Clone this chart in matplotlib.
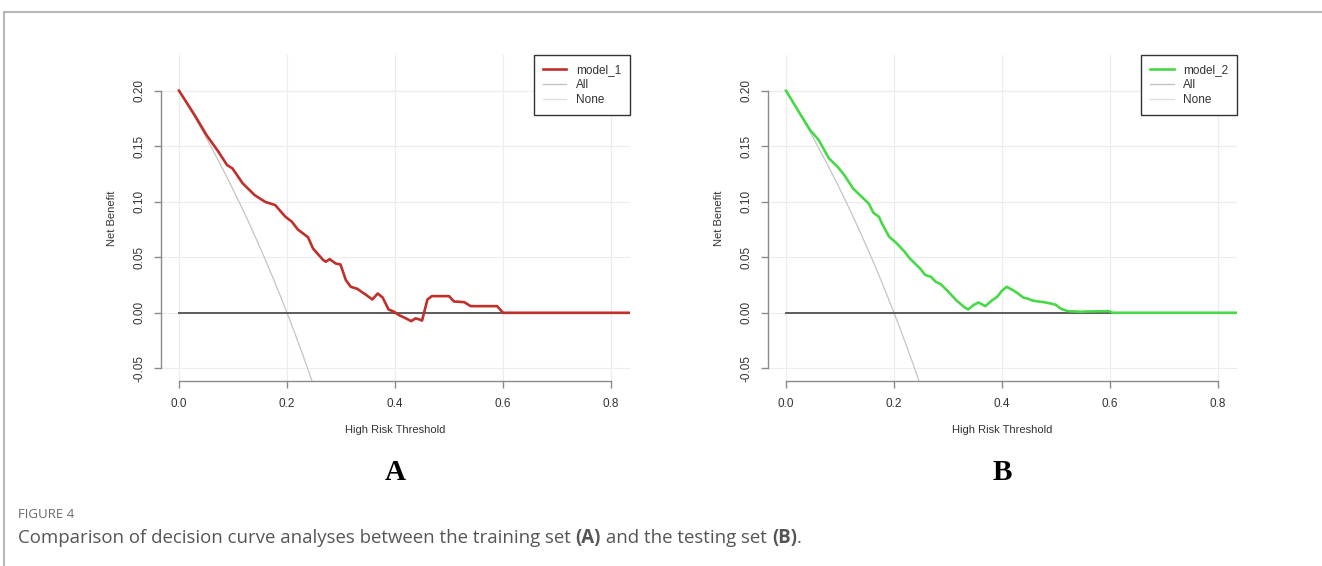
import matplotlib
matplotlib.use("Agg")
import matplotlib.pyplot as plt
from matplotlib.lines import Line2D
import numpy as np

# decision curve values
thr_1 = [0.0, 0.029, 0.051, 0.073, 0.089, 0.099, 0.118, 0.140, 0.159, 0.178, 0.197, 0.209,
         0.220, 0.239, 0.248, 0.267, 0.272, 0.279, 0.290, 0.299, 0.309, 0.318, 0.330, 0.347,
         0.358, 0.368, 0.377, 0.388, 0.398, 0.407, 0.420, 0.430, 0.438, 0.445, 0.450, 0.460,
         0.468, 0.500, 0.509, 0.528, 0.540, 0.589, 0.600, 0.835]
nb_1 = [0.200, 0.178, 0.160, 0.145, 0.133, 0.130, 0.1165, 0.106, 0.100, 0.097, 0.0865, 0.082,
        0.075, 0.068, 0.058, 0.0475, 0.046, 0.0483, 0.0444, 0.0435, 0.0294, 0.0234, 0.0216, 0.0159,
        0.012, 0.0174, 0.0138, 0.003, 0.001, -0.002, -0.005, -0.0075, -0.005, -0.006, -0.007, 0.012,
        0.015, 0.015, 0.0102, 0.0096, 0.006, 0.006, 0.0, 0.0]

thr_2 = [0.0, 0.0255, 0.0446, 0.0605, 0.0796, 0.0955, 0.108, 0.124, 0.140, 0.153, 0.162, 0.172,
         0.178, 0.191, 0.204, 0.2196, 0.229, 0.248, 0.258, 0.2686, 0.277, 0.2864, 0.299, 0.315,
         0.331, 0.3373, 0.347, 0.3564, 0.369, 0.382, 0.391, 0.3997, 0.4086, 0.420, 0.4296, 0.439,
         0.4487, 0.458, 0.477, 0.490, 0.4996, 0.509, 0.522, 0.547, 0.557, 0.598, 0.6046, 0.835]
nb_2 = [0.200, 0.1796, 0.1646, 0.1556, 0.139, 0.1315, 0.124, 0.112, 0.1045, 0.0985, 0.090, 0.0865,
        0.080, 0.0685, 0.063, 0.055, 0.049, 0.040, 0.034, 0.0324, 0.028, 0.0258, 0.0198, 0.0114,
        0.0048, 0.003, 0.0069, 0.0093, 0.006, 0.0114, 0.0144, 0.0198, 0.0234, 0.0204, 0.0174, 0.0138,
        0.0126, 0.0108, 0.0096, 0.0084, 0.0072, 0.0036, 0.0015, 0.0009, 0.0012, 0.0015, 0.0, 0.0]

prevalence = 0.2
x_ticks = [0.0, 0.2, 0.4, 0.6, 0.8]
y_ticks = [-0.05, 0.0, 0.05, 0.10, 0.15, 0.20]
model_names = ["model_1", "model_2"]
model_colors = ["#c0302b", "#48d848"]
panel_letters = ["A", "B"]

W, H = 1322, 566
fig = plt.figure(figsize=(W / 100, H / 100), dpi=100)

sans = "Liberation Sans"
txt_col = "#333333"


def draw_panel(left_px, thr, nb, name, color, letter):
    ax = fig.add_axes([left_px / W, 1 - 381 / H, 469 / W, 326 / H])
    ax.set_xlim(-0.0333, 0.835)
    ax.set_ylim(-0.0614, 0.2321)
    for v in y_ticks:
        ax.axhline(v, color="#ececec", lw=0.8, zorder=0)
    for v in x_ticks:
        ax.axvline(v, color="#ececec", lw=0.8, zorder=0)
    # treat-all curve
    t = np.linspace(0, 0.3, 200)
    nb_all = prevalence - (1 - prevalence) * t / (1 - t)
    ax.plot(t, nb_all, color="#c4c4c4", lw=0.9, zorder=2)
    # treat-none
    ax.plot([0, 0.835], [0, 0], color="#505050", lw=1.3, zorder=2)
    ax.plot(thr, nb, color=color, lw=1.9, zorder=3)

    for s in ["top", "right"]:
        ax.spines[s].set_visible(False)
    ax.spines["left"].set_bounds(-0.05, 0.20)
    ax.spines["bottom"].set_bounds(0.0, 0.8)
    for s in ["left", "bottom"]:
        ax.spines[s].set_color("#8a8a8a")
        ax.spines[s].set_linewidth(1.0)
    ax.set_xticks(x_ticks)
    ax.set_xticklabels(["%.1f" % v for v in x_ticks])
    ax.set_yticks(y_ticks)
    ax.set_yticklabels(["%.2f" % v for v in y_ticks], rotation=90, va="center")
    ax.tick_params(direction="out", length=5, width=1.0, color="#8a8a8a",
                   labelsize=8.5, labelcolor=txt_col)
    ax.tick_params(axis="x", pad=7)
    ax.tick_params(axis="y", pad=6)
    for lab in ax.get_xticklabels() + ax.get_yticklabels():
        lab.set_family(sans)
    ax.set_xlabel("High Risk Threshold", fontsize=8, family=sans, color=txt_col, labelpad=11)
    ax.set_ylabel("Net Benefit", fontsize=8, family=sans, color=txt_col, labelpad=12)

    handles = [Line2D([], [], color=color, lw=1.9),
               Line2D([], [], color="#c4c4c4", lw=1.0),
               Line2D([], [], color="#e0e0e0", lw=1.0)]
    leg = ax.legend(handles, [name, "All", "None"], loc="upper right", borderaxespad=0,
                    fancybox=False, framealpha=1, edgecolor="#333333",
                    prop={"family": sans, "size": 8.5}, labelspacing=0.25,
                    handlelength=2.0, handletextpad=0.8, borderpad=0.75)
    leg.get_frame().set_linewidth(1.0)
    for tx in leg.get_texts():
        tx.set_color(txt_col)

    cx = (left_px + 18 + 108 * 2) / W
    fig.text(cx, 1 - 473 / H, letter, ha="center", va="center", fontsize=21,
             fontweight="bold", family="Liberation Serif", color="black")
    return ax


for i, left_px in enumerate([161, 768]):
    thr = [thr_1, thr_2][i]
    nb = [nb_1, nb_2][i]
    draw_panel(left_px, thr, nb, model_names[i], model_colors[i], panel_letters[i])

# page frame lines
fig.add_artist(Line2D([4 / W, 1], [1 - 12 / H, 1 - 12 / H], color="#b8b8b8", lw=1.5))
fig.add_artist(Line2D([4 / W, 4 / W], [0, 1 - 12 / H], color="#b8b8b8", lw=1.5))

# caption
fig.text(18 / W, 1 - 514 / H, "FIGURE 4", fontsize=9.5, family="Open Sans",
         color="#6a6a6a", va="center", ha="left")

pieces = [("Comparison of decision curve analyses between the training set ", "normal"),
          ("(A)", "bold"),
          (" and the testing set ", "normal"),
          ("(B)", "bold"),
          (".", "normal")]
renderer = fig.canvas.get_renderer()
x0 = 18
for s, w in pieces:
    t = fig.text(x0 / W, 1 - 538 / H, s, fontsize=13.4, family="Open Sans", fontweight=w,
                 color="#555555", va="center", ha="left")
    x0 += t.get_window_extent(renderer).width

fig.savefig("out.png", dpi=100)
